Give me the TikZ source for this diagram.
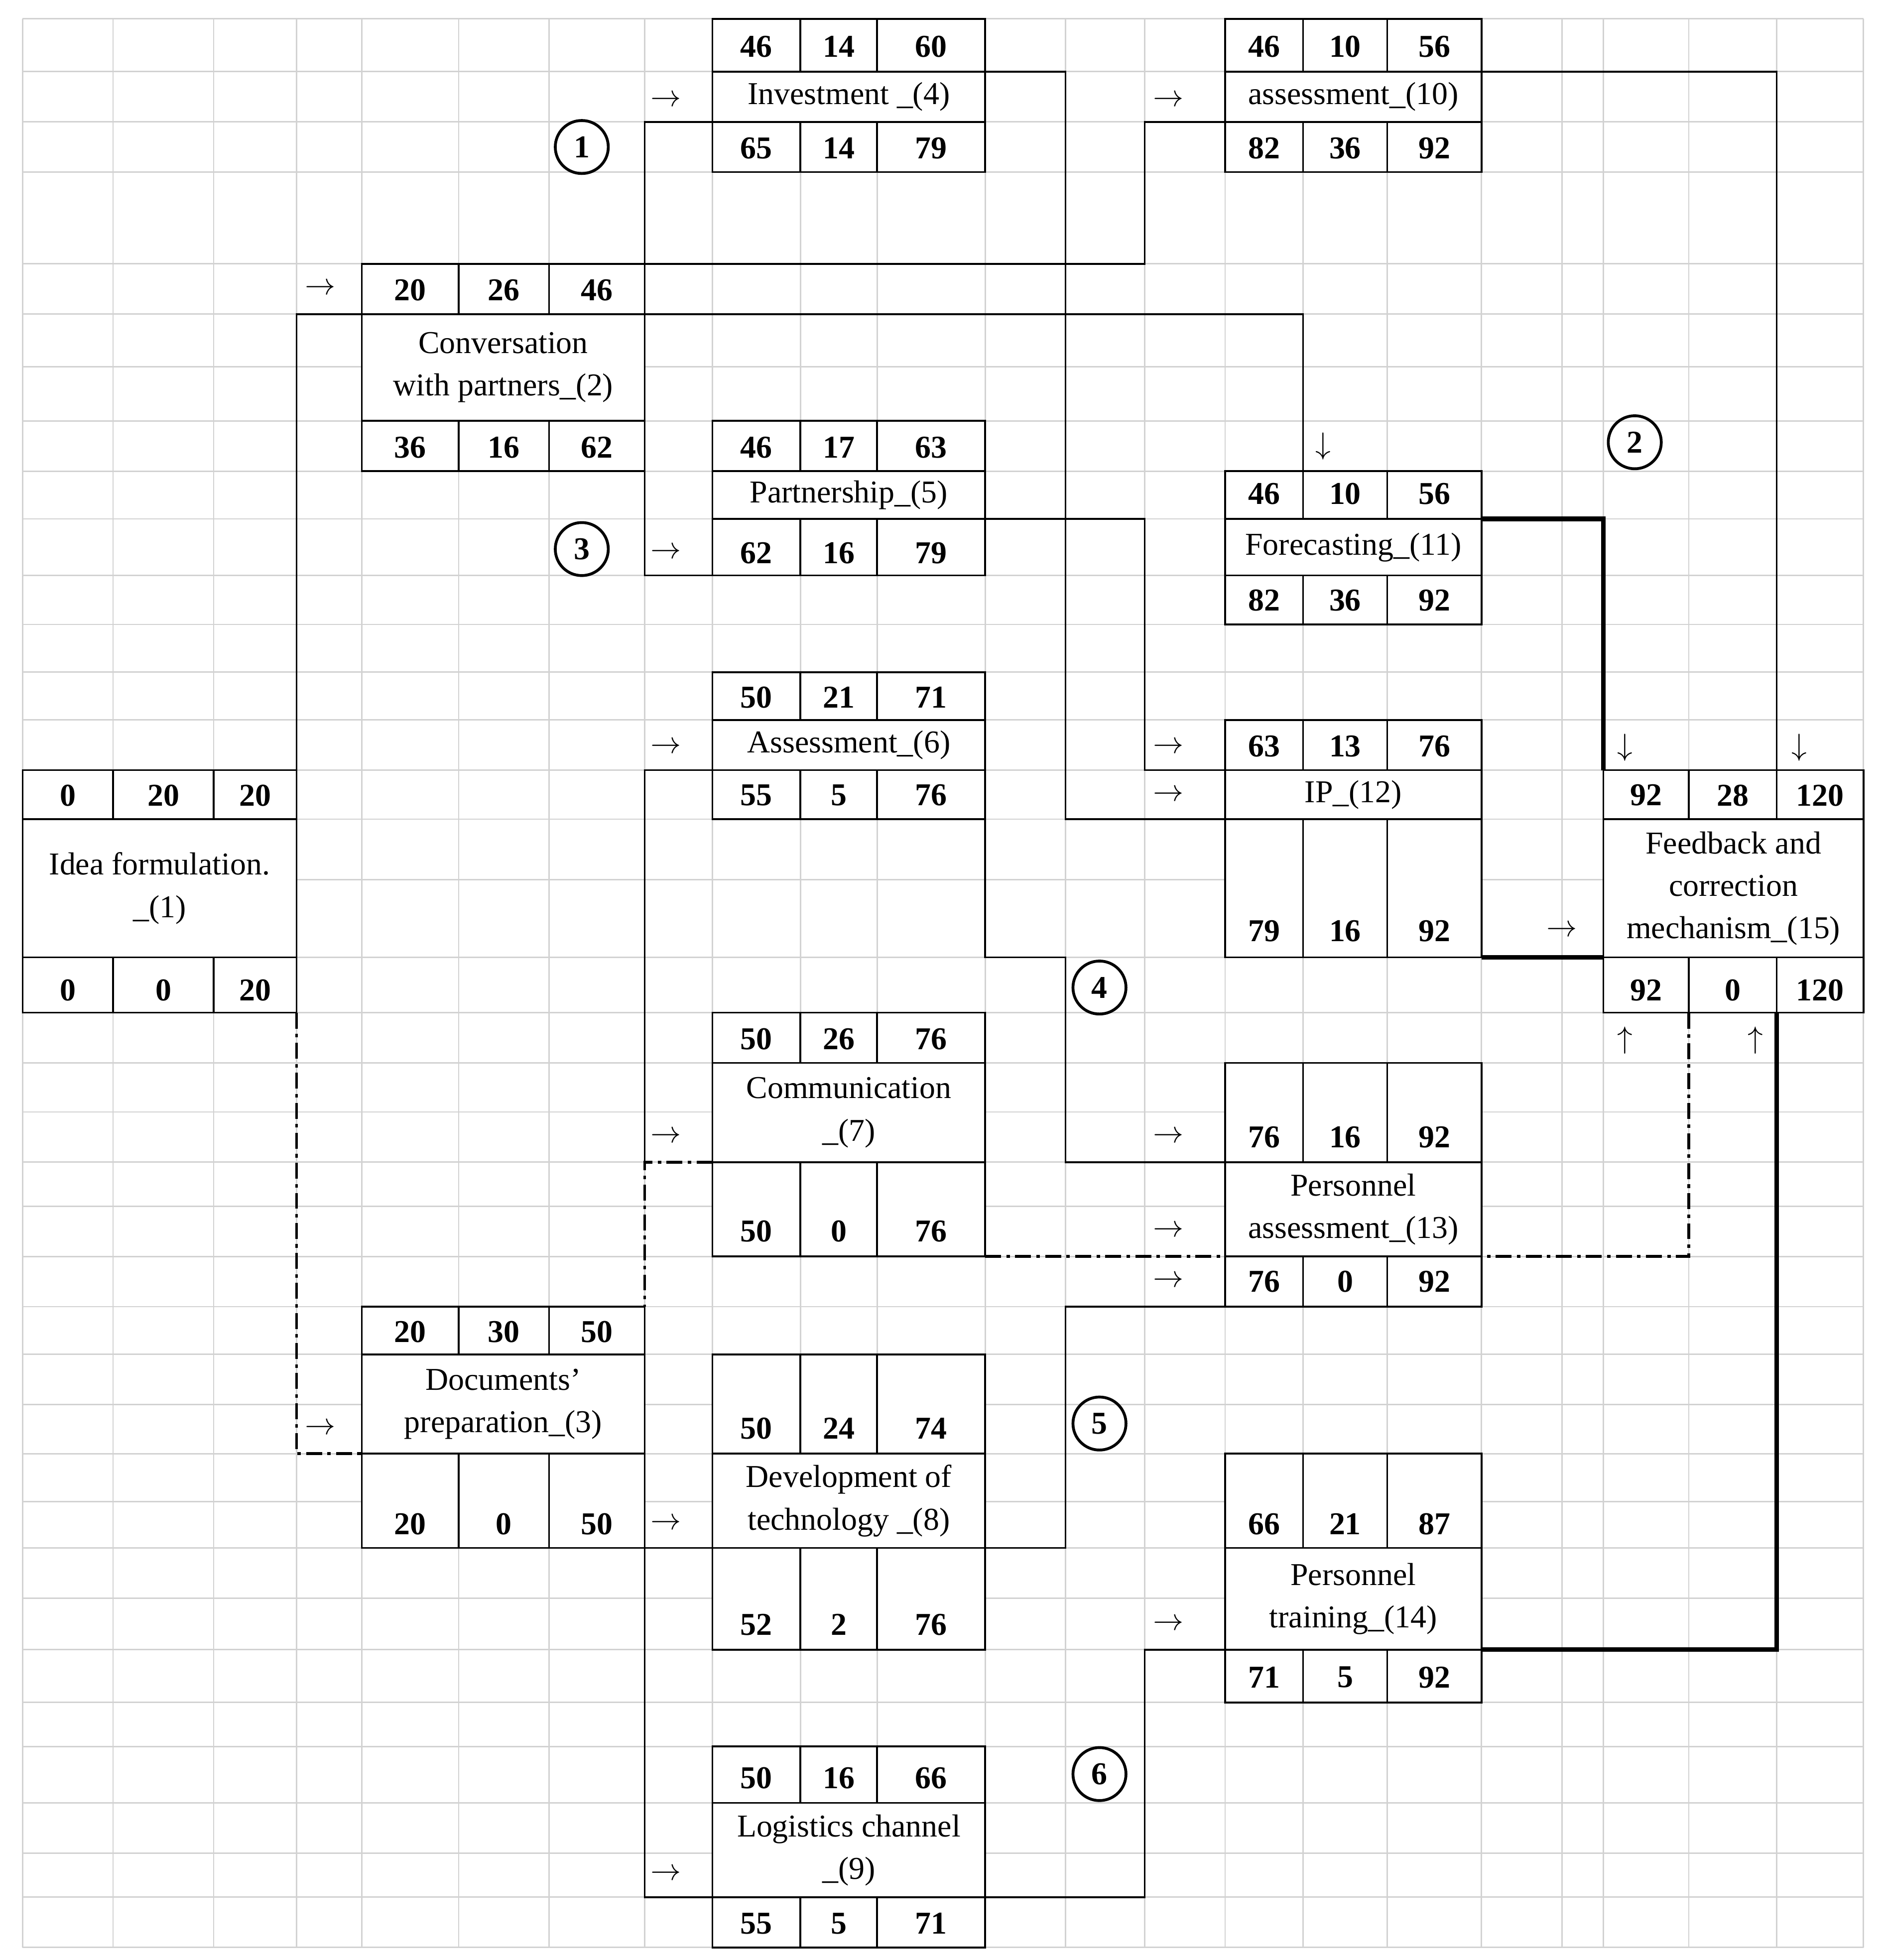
\documentclass[tikz,border=0pt]{standalone}
\usepackage{fontspec}
\setmainfont{Liberation Serif}
\begin{document}
\begin{tikzpicture}[x=0.025cm,y=-0.025cm,
  grid/.style={gray!35,line width=0.8pt},
  bx/.style={black,line width=1pt},
  ln/.style={black,line width=1pt},
  thk/.style={black,line width=2.6pt},
  dd/.style={black,line width=1.6pt,dash pattern=on 9pt off 3pt on 2pt off 3pt},
  num/.style={font=\fontsize{18}{20}\selectfont\bfseries},
  lab/.style={font=\fontsize{18}{24}\selectfont,align=center},
  ar/.style={font=\fontsize{18}{20}\selectfont},
  circ/.style={circle,draw,line width=1.6pt,inner sep=1pt,minimum size=30pt,font=\fontsize{18}{20}\selectfont\bfseries}]
\useasboundingbox (0,0) rectangle (1500,1560);
\fill[white] (0,0) rectangle (1500,1560);
\foreach \x in {18,90,170,236,288,365,437,513,567,637,698,784,848,911,975,1037,1104,1179,1243,1276,1344,1414,1483}
  \draw[grid] (\x,15) -- (\x,1550);
\foreach \y in {15,57,97,137,210,250,292,335,375,413,458,497,535,573,613,652,700,762,806,846,885,925,960,1000,1040,1078,1118,1157,1195,1232,1272,1313,1355,1390,1435,1475,1510,1550}
  \draw[grid] (18,\y) -- (1483,\y);
% macros
\newcommand\trow[9]{% x1 x2 x3 x4 ytop ybot ytext a b c
  \draw[bx,fill=white] (#1,#5) rectangle (#4,#6);
  \draw[bx] (#2,#5) -- (#2,#6) (#3,#5) -- (#3,#6);
  \node[num] at ({(#1+#2)/2},#7) {#8};
  \node[num] at ({(#2+#3)/2},#7) {#9};
  \trowc{#3}{#4}{#7}}
\newcommand\trowc[4]{\node[num] at ({(#1+#2)/2},#3) {#4};}
\newcommand\mrow[5]{\draw[bx,fill=white] (#1,#3) rectangle (#2,#4);
  \node[lab] at ({(#1+#2)/2},{(#3+#4)/2}) {#5};}
% connectors
\draw[ln] (236,613) -- (236,250) -- (288,250);
\draw[dd] (236,806) -- (236,1157) -- (288,1157);
\draw[ln] (513,210) -- (513,97) -- (567,97);
\draw[ln] (513,210) -- (911,210) -- (911,97) -- (975,97);
\draw[ln] (513,250) -- (1037,250) -- (1037,375);
\draw[ln] (513,375) -- (513,458) -- (567,458);
\draw[ln] (784,57) -- (848,57) -- (848,652) -- (975,652);
\draw[ln] (1179,57) -- (1414,57) -- (1414,613);
\draw[ln] (784,413) -- (911,413) -- (911,613) -- (975,613);
\draw[thk] (1179,413) -- (1276,413) -- (1276,613);
\draw[thk] (1179,762) -- (1276,762);
\draw[ln] (567,613) -- (513,613) -- (513,925);
\draw[dd] (567,925) -- (513,925) -- (513,1040);
\draw[ln] (784,652) -- (784,762) -- (848,762) -- (848,925) -- (975,925);
\draw[dd] (784,1000) -- (1344,1000) -- (1344,806);
\draw[ln] (784,1232) -- (848,1232) -- (848,1040) -- (975,1040);
\draw[ln] (513,1232) -- (567,1232);
\draw[ln] (513,1232) -- (513,1510) -- (567,1510);
\draw[ln] (784,1510) -- (911,1510) -- (911,1313) -- (975,1313);
\draw[thk] (1179,1313) -- (1414,1313) -- (1414,806);
% arrows as glyphs
\foreach \p in {(255,230),(255,1137),(530,80),(930,80),(530,440),(530,595),(930,595),(930,633),(530,905),(930,905),(930,980),(930,1020),(530,1213),(530,1492),(930,1293),(1243,741)}
  \node[ar] at \p {$\rightarrow$};
\foreach \p in {(1053,355),(1293,595),(1432,595)} \node[ar] at \p {$\downarrow$};
\foreach \p in {(1293,828),(1397,828)} \node[ar] at \p {$\uparrow$};
% node 1
\trow{18}{90}{170}{236}{613}{652}{633}{0}{20}{20}
\mrow{18}{236}{652}{762}{Idea formulation.\\\_(1)}
\trow{18}{90}{170}{236}{762}{806}{788}{0}{0}{20}
% node 2
\trow{288}{365}{437}{513}{210}{250}{231}{20}{26}{46}
\mrow{288}{513}{250}{335}{Conversation\\with partners\_(2)}
\trow{288}{365}{437}{513}{335}{375}{356}{36}{16}{62}
% node 3
\trow{288}{365}{437}{513}{1040}{1078}{1060}{20}{30}{50}
\mrow{288}{513}{1078}{1157}{Documents’\\preparation\_(3)}
\trow{288}{365}{437}{513}{1157}{1232}{1213}{20}{0}{50}
% node 4
\trow{567}{637}{698}{784}{15}{57}{37}{46}{14}{60}
\mrow{567}{784}{57}{97}{Investment \_(4)}
\trow{567}{637}{698}{784}{97}{137}{118}{65}{14}{79}
% node 5
\trow{567}{637}{698}{784}{335}{375}{356}{46}{17}{63}
\mrow{567}{784}{375}{413}{Partnership\_(5)}
\trow{567}{637}{698}{784}{413}{458}{440}{62}{16}{79}
% node 6
\trow{567}{637}{698}{784}{535}{573}{555}{50}{21}{71}
\mrow{567}{784}{573}{613}{Assessment\_(6)}
\trow{567}{637}{698}{784}{613}{652}{633}{55}{5}{76}
% node 7
\trow{567}{637}{698}{784}{806}{846}{827}{50}{26}{76}
\mrow{567}{784}{846}{925}{Communication\\\_(7)}
\trow{567}{637}{698}{784}{925}{1000}{980}{50}{0}{76}
% node 8
\trow{567}{637}{698}{784}{1078}{1157}{1137}{50}{24}{74}
\mrow{567}{784}{1157}{1232}{Development of\\technology \_(8)}
\trow{567}{637}{698}{784}{1232}{1313}{1293}{52}{2}{76}
% node 9
\trow{567}{637}{698}{784}{1390}{1435}{1415}{50}{16}{66}
\mrow{567}{784}{1435}{1510}{Logistics channel\\\_(9)}
\trow{567}{637}{698}{784}{1510}{1550}{1531}{55}{5}{71}
% node 10
\trow{975}{1037}{1104}{1179}{15}{57}{37}{46}{10}{56}
\mrow{975}{1179}{57}{97}{assessment\_(10)}
\trow{975}{1037}{1104}{1179}{97}{137}{118}{82}{36}{92}
% node 11
\trow{975}{1037}{1104}{1179}{375}{413}{393}{46}{10}{56}
\mrow{975}{1179}{413}{458}{Forecasting\_(11)}
\trow{975}{1037}{1104}{1179}{458}{497}{478}{82}{36}{92}
% node 12
\trow{975}{1037}{1104}{1179}{573}{613}{594}{63}{13}{76}
\mrow{975}{1179}{613}{652}{IP\_(12)}
\trow{975}{1037}{1104}{1179}{652}{762}{741}{79}{16}{92}
% node 13
\trow{975}{1037}{1104}{1179}{846}{925}{905}{76}{16}{92}
\mrow{975}{1179}{925}{1000}{Personnel\\assessment\_(13)}
\trow{975}{1037}{1104}{1179}{1000}{1040}{1020}{76}{0}{92}
% node 14
\trow{975}{1037}{1104}{1179}{1157}{1232}{1213}{66}{21}{87}
\mrow{975}{1179}{1232}{1313}{Personnel\\training\_(14)}
\trow{975}{1037}{1104}{1179}{1313}{1355}{1335}{71}{5}{92}
% node 15
\trow{1276}{1344}{1414}{1483}{613}{652}{633}{92}{28}{120}
\mrow{1276}{1483}{652}{762}{Feedback and\\correction\\mechanism\_(15)}
\trow{1276}{1344}{1414}{1483}{762}{806}{788}{92}{0}{120}
% circled numbers
\node[circ] (c1) at (463,117) {1};
\node[circ] (c2) at (1301,352) {2};
\node[circ] (c3) at (463,437) {3};
\node[circ] (c4) at (875,786) {4};
\node[circ] (c5) at (875,1133) {5};
\node[circ] (c6) at (875,1412) {6};
\end{tikzpicture}
\end{document}
